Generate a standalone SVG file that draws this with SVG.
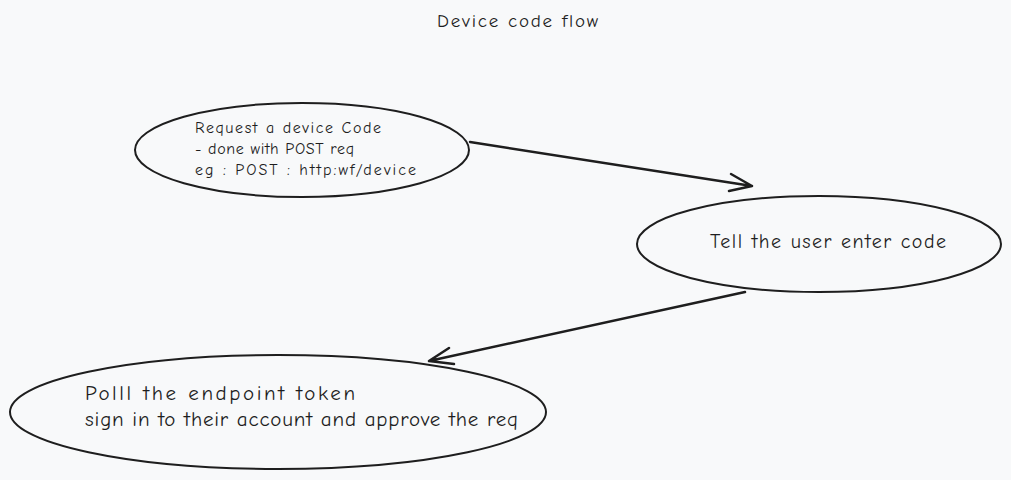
<svg xmlns="http://www.w3.org/2000/svg" width="1011" height="480" viewBox="0 0 1011 480">
<style>
.bg{fill:#f8f9fa}
.node{fill:none;stroke:#1e1e1e;stroke-width:2}
.edge{fill:none;stroke:#1e1e1e;stroke-width:2.5;stroke-linecap:round;stroke-linejoin:round}
text{font-family:"Comic Neue","Liberation Sans",sans-serif;fill:#1e1e1e}
</style>
<rect class="bg" x="0" y="0" width="1011" height="480"/>
<g id="title"><text x="437" y="27" font-size="19" textLength="161" lengthAdjust="spacing">Device code flow</text></g>
<g id="node-request">
<ellipse class="node" cx="302" cy="150" rx="167" ry="47"/>
<text font-size="16"><tspan x="195" y="133" textLength="186" lengthAdjust="spacing">Request a device Code</tspan><tspan x="195" y="154" textLength="159" lengthAdjust="spacing">- done with POST req</tspan><tspan x="195" y="175" textLength="221" lengthAdjust="spacing">eg : POST : http:wf/device</tspan></text>
</g>
<g id="node-tell">
<ellipse class="node" cx="819" cy="244" rx="182" ry="48"/>
<text x="710" y="248" font-size="20" textLength="236" lengthAdjust="spacing">Tell the user enter code</text>
</g>
<g id="node-poll">
<ellipse class="node" cx="278" cy="412" rx="268" ry="57"/>
<text font-size="21"><tspan x="85" y="400" textLength="270" lengthAdjust="spacing">Polll the endpoint token</tspan><tspan x="85" y="426" textLength="433" lengthAdjust="spacing">sign in to their account and approve the req</tspan></text>
</g>
<g id="connectors">
<path class="edge" d="M470 142 L752 186 M731 174 L752 186 L729 191"/>
<path class="edge" d="M745 292 L429 361 M449 348 L429 361 L454 364"/>
</g>
</svg>
